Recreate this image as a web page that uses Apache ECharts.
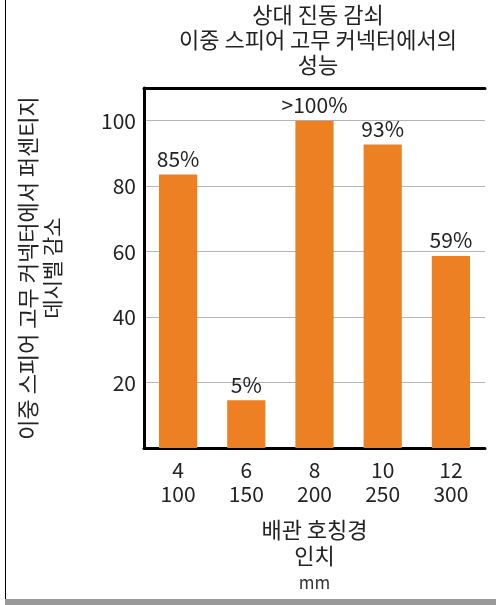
<!DOCTYPE html>
<html><head><meta charset="utf-8">
<script src="https://cdn.jsdelivr.net/npm/echarts@6/dist/echarts.min.js"></script>
<style>html,body{margin:0;padding:0;background:#fff}#c{width:496px;height:605px}</style>
</head><body><div id="c"></div>
<script>
const categories = ['4\n100', '6\n150', '8\n200', '10\n250', '12\n300'];
const values = [83.6, 14.6, 100, 92.7, 58.7];
const barLabels = ['85%', '5%', '>100%', '93%', '59%'];
const yTicks = [20, 40, 60, 80, 100];
const titleLines = ['상대 진동 감쇠', '이중 스피어 고무 커넥터에서의', '성능'];
const yName = ['이중 스피어 고무 커넥터에서 퍼센티지', '데시벨 감소'];
const xName = ['배관 호칭경', '인치', 'mm'];

const FONT = '"Noto Sans CJK KR", "Noto Sans", sans-serif';
const chart = echarts.init(document.getElementById('c'), null, {renderer: 'canvas'});
chart.setOption({
  animation: false,
  backgroundColor: '#fff',
  textStyle: {fontFamily: FONT},
  title: {
    text: titleLines.join('\n'),
    left: 313, top: -3, textAlign: 'center',
    textStyle: {fontSize: 22, fontWeight: 'normal', color: '#222', lineHeight: 25, fontFamily: FONT}
  },
  grid: {left: 144, right: 11, top: 88, bottom: 157, containLabel: false, outerBoundsMode: 'none'},
  xAxis: [{
    type: 'category', data: categories, position: 'bottom',
    axisLine: {lineStyle: {color: '#000', width: 3}},
    axisTick: {show: false},
    axisLabel: {fontSize: 21, color: '#222', lineHeight: 24, margin: 10, fontFamily: FONT},
    name: '{xa|' + xName[0] + '}\n{xa|' + xName[1] + '}\n{xb|' + xName[2] + '}',
    nameLocation: 'middle', nameGap: 69,
    nameTextStyle: {
      fontSize: 22, fontFamily: FONT, color: '#222',
      rich: {
        xa: {fontSize: 22, color: '#222', lineHeight: 26, fontFamily: FONT},
        xb: {fontSize: 17, color: '#333', lineHeight: 27, fontFamily: FONT}
      }
    }
  }, {
    type: 'category', data: categories, position: 'top',
    axisLine: {lineStyle: {color: '#000', width: 3}},
    axisTick: {show: false}, axisLabel: {show: false}
  }],
  yAxis: {
    type: 'value', min: 0, max: 110, interval: 20,
    axisLine: {show: true, lineStyle: {color: '#000', width: 3}},
    axisTick: {show: false},
    splitLine: {lineStyle: {color: '#b5b5b5', width: 1}},
    axisLabel: {
      fontSize: 21, color: '#222', margin: 8, fontFamily: FONT,
      formatter: v => yTicks.includes(v) ? String(v) : ''
    },
    name: '{ya|' + yName[0] + '}\n{yb|' + yName[1] + '}', nameLocation: 'middle', nameRotate: 90, nameGap: 81,
    nameTextStyle: {
      fontSize: 21, fontFamily: FONT, color: '#222',
      rich: {
        ya: {fontSize: 22, color: '#222', lineHeight: 26, fontFamily: FONT},
        yb: {fontSize: 21, color: '#222', lineHeight: 22, fontFamily: FONT}
      }
    }
  },
  series: [{
    type: 'bar', data: values, barWidth: '56%',
    itemStyle: {color: '#ED8023'},
    label: {
      show: true, position: 'top', distance: 5, fontSize: 21, color: '#222', fontFamily: FONT,
      formatter: p => barLabels[p.dataIndex]
    }
  }],
  graphic: [
    {type: 'line', shape: {x1: 5.5, y1: 0, x2: 5.5, y2: 600}, style: {stroke: '#000', lineWidth: 1}},
    {type: 'rect', shape: {x: 5, y: 599, width: 491, height: 6}, style: {fill: '#999'}}
  ]
});
</script></body></html>
